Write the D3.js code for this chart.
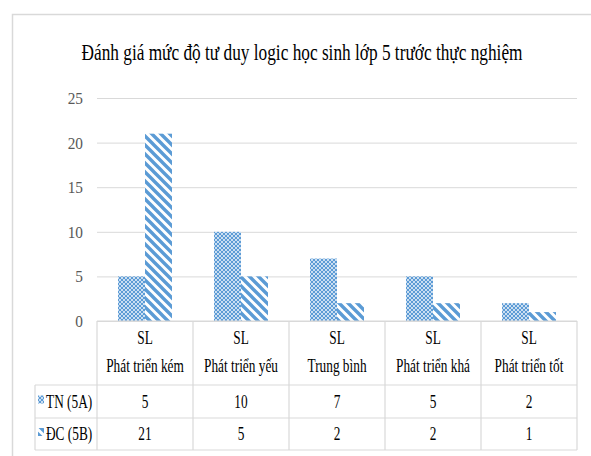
<!DOCTYPE html>
<html>
<head>
<meta charset="utf-8">
<script src="https://cdn.jsdelivr.net/npm/d3@7/dist/d3.min.js"></script>
<style>
  html, body { margin: 0; padding: 0; background: #fff; }
  svg { display: block; }
</style>
</head>
<body>
<svg id="chart" width="591" height="456"></svg>
<script>
// ---- data ----
const title = "Đánh giá mức độ tư duy logic  học sinh lớp 5 trước thực nghiệm";
const categories = ["Phát triển kém", "Phát triển yếu", "Trung bình", "Phát triển khá", "Phát triển tốt"];
const headerLabel = "SL";
const seriesNames = ["TN (5A)", "ĐC (5B)"];
const tnValues = [5, 10, 7, 5, 2];
const dcValues = [21, 5, 2, 2, 1];
const yTicks = [0, 5, 10, 15, 20, 25];

const series = [
  { name: seriesNames[0], values: tnValues, fill: "url(#dots)" },
  { name: seriesNames[1], values: dcValues, fill: "url(#stripes)" }
];

const svg = d3.select("#chart");
const blue = "#5b9bd5";
const lineCol = "#d9d9d9";
const serif = '"Liberation Serif"';
const sans = '"Liberation Sans Narrow"';
const squeeze = 0.74;

// ---- patterns ----
const defs = svg.append("defs");
const dots = defs.append("pattern").attr("id", "dots")
  .attr("patternUnits", "userSpaceOnUse").attr("width", 4).attr("height", 4);
dots.append("rect").attr("width", 4).attr("height", 4).attr("fill", blue);
[[0, 0], [4, 0], [0, 4], [4, 4], [2, 2]].forEach(([cx, cy]) =>
  dots.append("circle").attr("cx", cx).attr("cy", cy).attr("r", 1.05).attr("fill", "#e8f1fa"));

const stripes = defs.append("pattern").attr("id", "stripes")
  .attr("patternUnits", "userSpaceOnUse").attr("width", 9).attr("height", 9);
stripes.append("rect").attr("width", 9).attr("height", 9).attr("fill", "#fff");
stripes.append("path")
  .attr("d", "M-2,-2 L11,11 M-11,-2 L2,11 M7,-2 L20,11")
  .attr("stroke", blue).attr("stroke-width", 3.4);

// ---- frame ----
svg.append("path").attr("d", "M12.5,456 V14.5 H591")
  .attr("fill", "none").attr("stroke", lineCol).attr("stroke-width", 1.5);

// squeezed text helper
function label(g, x, y, txt, opts) {
  return g.append("text")
    .attr("transform", `translate(${x},${y}) scale(${opts.sx || squeeze},1)`)
    .attr("text-anchor", opts.anchor || "middle")
    .style("font-family", opts.family || serif)
    .style("font-size", (opts.size || 16) + "px")
    .attr("fill", opts.color || "#000")
    .text(txt);
}

// ---- title ----
label(svg, 302, 60, title, { size: 24, sx: 0.72 });

// ---- scales ----
const y = d3.scaleLinear().domain([0, 25]).range([321, 98]);
const x0 = d3.scaleBand().domain(categories).range([97, 577]).padding(0);
const groupW = 54;
const x1 = d3.scaleBand().domain(seriesNames).range([0, groupW]).padding(0);
const groupOffset = (x0.bandwidth() - groupW) / 2;

// ---- grid & y labels ----
const yAxis = d3.axisLeft(y).tickValues(yTicks).tickSize(-(577 - 97)).tickPadding(14);
const yg = svg.append("g").attr("transform", "translate(97,0)").call(yAxis);
yg.select(".domain").remove();
yg.selectAll(".tick line").attr("stroke", lineCol).attr("stroke-width", 1);
yg.selectAll(".tick text").remove();
yTicks.forEach(t => label(svg, 83, y(t) + 6, String(t),
  { anchor: "end", family: sans, size: 17, color: "#595959", sx: 0.9 }));

// ---- bars ----
const groups = svg.append("g").selectAll("g").data(series).join("g");
groups.each(function (s) {
  d3.select(this).selectAll("rect")
    .data(s.values.map((v, i) => ({ cat: categories[i], v })))
    .join("rect")
    .attr("x", d => x0(d.cat) + groupOffset + x1(s.name))
    .attr("width", x1.bandwidth())
    .attr("y", d => y(d.v))
    .attr("height", d => y(0) - y(d.v))
    .attr("fill", s.fill);
});

// ---- data table ----
const tbl = svg.append("g");
const rowTop = 321, headBottom = 385;
const rowLines = [385, 418, 450];
const legendLeft = 35;
const tableRight = 577;
const stroke = (sel) => sel.attr("stroke", lineCol).attr("stroke-width", 1.2);

stroke(tbl.append("line").attr("x1", 97).attr("x2", tableRight).attr("y1", rowTop).attr("y2", rowTop));
rowLines.forEach(ly => stroke(tbl.append("line")
  .attr("x1", legendLeft).attr("x2", tableRight).attr("y1", ly).attr("y2", ly)));
stroke(tbl.append("line").attr("x1", legendLeft).attr("x2", legendLeft)
  .attr("y1", headBottom).attr("y2", rowLines[2]));
categories.forEach(c => stroke(tbl.append("line")
  .attr("x1", x0(c)).attr("x2", x0(c)).attr("y1", rowTop).attr("y2", rowLines[2])));
stroke(tbl.append("line").attr("x1", tableRight).attr("x2", tableRight)
  .attr("y1", rowTop).attr("y2", rowLines[2]));

categories.forEach(c => {
  const cx = x0(c) + x0.bandwidth() / 2;
  label(tbl, cx, 344, headerLabel, { size: 18 });
  label(tbl, cx, 372, c, { size: 18 });
});

series.forEach((s, r) => {
  const cy = (rowLines[r] + rowLines[r + 1]) / 2 + 6;
  // legend key
  tbl.append("rect").attr("x", 38).attr("y", cy - 12).attr("width", 6).attr("height", 8)
    .attr("fill", s.fill);
  label(tbl, 46, cy, s.name, { anchor: "start", size: 18 });
  s.values.forEach((v, i) => {
    label(tbl, x0(categories[i]) + x0.bandwidth() / 2, cy, String(v), { size: 18 });
  });
});
</script>
</body>
</html>
